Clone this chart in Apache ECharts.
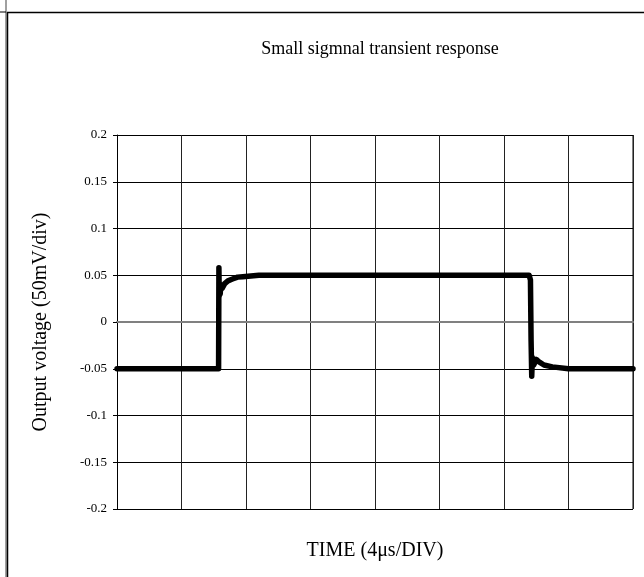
<!DOCTYPE html>
<html>
<head>
<meta charset="utf-8">
<script src="https://cdn.jsdelivr.net/npm/echarts@6/dist/echarts.min.js"></script>
<style>
html,body{margin:0;padding:0;background:#fff;}
#chart{width:644px;height:577px;}
</style>
</head>
<body>
<div id="chart"></div>
<script>
// Time in divisions (4 µs/div), voltage in V
var timeDiv = [0, 1.575, 1.58, 1.585, 1.59, 1.6, 1.61, 1.63, 1.67, 1.72, 1.79, 1.87, 1.95, 2.2, 3, 4, 5, 6, 6.39, 6.41, 6.42, 6.43, 6.44, 6.46, 6.5, 6.55, 6.62, 6.75, 7.0, 8];
var voltage = [-0.05, -0.05, 0.058, 0.028, 0.038, 0.03, 0.04, 0.036, 0.041, 0.044, 0.046, 0.048, 0.0485, 0.05, 0.05, 0.05, 0.05, 0.05, 0.05, 0.045, -0.02, -0.058, -0.038, -0.046, -0.04, -0.043, -0.046, -0.048, -0.05, -0.05];
var yTicks = [-0.2, -0.15, -0.1, -0.05, 0, 0.05, 0.1, 0.15, 0.2];
var titleText = 'Small sigmnal transient response';
var xName = 'TIME (4\u03bcs/DIV)';
var yName = 'Output voltage (50mV/div)';

var pts = timeDiv.map(function (t, i) { return [t, voltage[i]]; });
var serif = '"Liberation Serif", "DejaVu Serif", serif';

var chart = echarts.init(document.getElementById('chart'), null, {renderer: 'canvas'});
chart.setOption({
  animation: false,
  backgroundColor: '#fff',
  title: {
    text: titleText,
    left: 375, top: 35, textAlign: 'center',
    textStyle: {fontFamily: serif, fontWeight: 'normal', fontSize: 18, color: '#000'}
  },
  grid: {left: 117, right: 11, top: 135, bottom: 68},
  xAxis: {
    type: 'value', min: 0, max: 8, interval: 1,
    name: xName, nameLocation: 'middle', nameGap: 32,
    nameTextStyle: {fontFamily: serif, fontSize: 20, color: '#000'},
    axisLine: {show: true, lineStyle: {color: '#808080', width: 2}},
    axisTick: {show: false},
    axisLabel: {show: false},
    splitLine: {show: true, lineStyle: {color: '#222', width: 1}}
  },
  yAxis: {
    type: 'value', min: -0.2, max: 0.2, interval: 0.05,
    name: yName, nameLocation: 'middle', nameGap: 66,
    nameTextStyle: {fontFamily: serif, fontSize: 20, color: '#000'},
    axisLine: {show: true, onZero: false, lineStyle: {color: '#000', width: 1}},
    axisTick: {show: true, length: 4, lineStyle: {color: '#000'}},
    axisLabel: {
      fontFamily: serif, fontSize: 13, color: '#000', margin: 10,
      formatter: function (v) {
        var r = Math.round(v * 100) / 100;
        for (var i = 0; i < yTicks.length; i++) if (Math.abs(yTicks[i] - r) < 1e-9) return String(yTicks[i]);
        return String(r);
      }
    },
    splitLine: {show: true, lineStyle: {color: '#000', width: 1}}
  },
  series: [{
    type: 'line',
    data: pts,
    showSymbol: false,
    symbol: 'none',
    lineStyle: {color: '#000', width: 5.5, cap: 'round', join: 'round'}
  }],
  graphic: [
    {type: 'line', shape: {x1: 6, y1: 0, x2: 6, y2: 577}, style: {stroke: '#808080', lineWidth: 1.5}},
    {type: 'line', shape: {x1: 7.5, y1: 12, x2: 7.5, y2: 577}, style: {stroke: '#000', lineWidth: 1.5}},
    {type: 'line', shape: {x1: 0, y1: 12, x2: 6, y2: 12}, style: {stroke: '#000', lineWidth: 1}},
    {type: 'line', shape: {x1: 7, y1: 12.5, x2: 644, y2: 12.5}, style: {stroke: '#000', lineWidth: 1.5}},
    {type: 'line', shape: {x1: 633, y1: 135, x2: 633, y2: 509}, style: {stroke: '#808080', lineWidth: 2}}
  ]
});
</script>
</body>
</html>
